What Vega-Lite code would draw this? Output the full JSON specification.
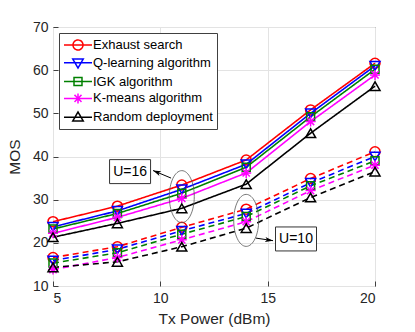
{
  "$schema": "https://vega.github.io/schema/vega-lite/v6.json",
  "width": 322,
  "height": 259,
  "autosize": "none",
  "padding": {"left": 53, "top": 27, "right": 40, "bottom": 46},
  "background": "white",
  "config": {
    "view": {"stroke": "#404040", "strokeWidth": 1},
    "font": "Liberation Sans",
    "axis": {
      "labelFont": "Liberation Sans",
      "labelFontSize": 14,
      "labelColor": "#262626",
      "titleFont": "Liberation Sans",
      "titleFontSize": 15.5,
      "titleFontWeight": "normal",
      "titleColor": "#262626",
      "domain": false,
      "tickSize": -5,
      "tickColor": "#404040",
      "labelPadding": 10,
      "gridColor": "#e3e3e3",
      "gridWidth": 1
    },
    "legend": {
      "labelFont": "Liberation Sans",
      "labelFontSize": 13,
      "labelColor": "#000000"
    }
  },
  "datasets": {
    "mos": [
      {"alg": "Exhaust search", "U": "16", "x": 5, "mos": 24.9},
      {"alg": "Exhaust search", "U": "16", "x": 8, "mos": 28.5},
      {"alg": "Exhaust search", "U": "16", "x": 11, "mos": 33.4},
      {"alg": "Exhaust search", "U": "16", "x": 14, "mos": 39.2},
      {"alg": "Exhaust search", "U": "16", "x": 17, "mos": 50.8},
      {"alg": "Exhaust search", "U": "16", "x": 20, "mos": 61.6},
      {"alg": "Q-learning algorithm", "U": "16", "x": 5, "mos": 23.7},
      {"alg": "Q-learning algorithm", "U": "16", "x": 8, "mos": 27.4},
      {"alg": "Q-learning algorithm", "U": "16", "x": 11, "mos": 32.4},
      {"alg": "Q-learning algorithm", "U": "16", "x": 14, "mos": 38.2},
      {"alg": "Q-learning algorithm", "U": "16", "x": 17, "mos": 50.0},
      {"alg": "Q-learning algorithm", "U": "16", "x": 20, "mos": 61.0},
      {"alg": "IGK algorithm", "U": "16", "x": 5, "mos": 23.2},
      {"alg": "IGK algorithm", "U": "16", "x": 8, "mos": 26.8},
      {"alg": "IGK algorithm", "U": "16", "x": 11, "mos": 31.5},
      {"alg": "IGK algorithm", "U": "16", "x": 14, "mos": 37.5},
      {"alg": "IGK algorithm", "U": "16", "x": 17, "mos": 49.2},
      {"alg": "IGK algorithm", "U": "16", "x": 20, "mos": 60.2},
      {"alg": "K-means algorithm", "U": "16", "x": 5, "mos": 22.2},
      {"alg": "K-means algorithm", "U": "16", "x": 8, "mos": 25.9},
      {"alg": "K-means algorithm", "U": "16", "x": 11, "mos": 30.3},
      {"alg": "K-means algorithm", "U": "16", "x": 14, "mos": 36.2},
      {"alg": "K-means algorithm", "U": "16", "x": 17, "mos": 48.1},
      {"alg": "K-means algorithm", "U": "16", "x": 20, "mos": 58.9},
      {"alg": "Random deployment", "U": "16", "x": 5, "mos": 21.3},
      {"alg": "Random deployment", "U": "16", "x": 8, "mos": 24.5},
      {"alg": "Random deployment", "U": "16", "x": 11, "mos": 28.0},
      {"alg": "Random deployment", "U": "16", "x": 14, "mos": 33.6},
      {"alg": "Random deployment", "U": "16", "x": 17, "mos": 45.4},
      {"alg": "Random deployment", "U": "16", "x": 20, "mos": 56.3},
      {"alg": "Exhaust search", "U": "10", "x": 5, "mos": 16.6},
      {"alg": "Exhaust search", "U": "10", "x": 8, "mos": 19.1},
      {"alg": "Exhaust search", "U": "10", "x": 11, "mos": 23.6},
      {"alg": "Exhaust search", "U": "10", "x": 14, "mos": 27.8},
      {"alg": "Exhaust search", "U": "10", "x": 17, "mos": 34.9},
      {"alg": "Exhaust search", "U": "10", "x": 20, "mos": 41.1},
      {"alg": "Q-learning algorithm", "U": "10", "x": 5, "mos": 15.9},
      {"alg": "Q-learning algorithm", "U": "10", "x": 8, "mos": 18.5},
      {"alg": "Q-learning algorithm", "U": "10", "x": 11, "mos": 22.8},
      {"alg": "Q-learning algorithm", "U": "10", "x": 14, "mos": 26.8},
      {"alg": "Q-learning algorithm", "U": "10", "x": 17, "mos": 33.9},
      {"alg": "Q-learning algorithm", "U": "10", "x": 20, "mos": 40.0},
      {"alg": "IGK algorithm", "U": "10", "x": 5, "mos": 15.3},
      {"alg": "IGK algorithm", "U": "10", "x": 8, "mos": 17.7},
      {"alg": "IGK algorithm", "U": "10", "x": 11, "mos": 22.0},
      {"alg": "IGK algorithm", "U": "10", "x": 14, "mos": 26.1},
      {"alg": "IGK algorithm", "U": "10", "x": 17, "mos": 33.2},
      {"alg": "IGK algorithm", "U": "10", "x": 20, "mos": 39.0},
      {"alg": "K-means algorithm", "U": "10", "x": 5, "mos": 13.8},
      {"alg": "K-means algorithm", "U": "10", "x": 8, "mos": 16.6},
      {"alg": "K-means algorithm", "U": "10", "x": 11, "mos": 20.7},
      {"alg": "K-means algorithm", "U": "10", "x": 14, "mos": 24.9},
      {"alg": "K-means algorithm", "U": "10", "x": 17, "mos": 32.1},
      {"alg": "K-means algorithm", "U": "10", "x": 20, "mos": 38.0},
      {"alg": "Random deployment", "U": "10", "x": 5, "mos": 14.3},
      {"alg": "Random deployment", "U": "10", "x": 8, "mos": 15.6},
      {"alg": "Random deployment", "U": "10", "x": 11, "mos": 19.1},
      {"alg": "Random deployment", "U": "10", "x": 14, "mos": 23.4},
      {"alg": "Random deployment", "U": "10", "x": 17, "mos": 30.5},
      {"alg": "Random deployment", "U": "10", "x": 20, "mos": 36.5}
    ],
    "ann": [
      {"label": "U=16", "bx": 8.59, "by": 36.5, "ex": 11, "ey": 30.7, "ax1": 10.5, "ay1": 35.0, "ax2": 9.66, "ay2": 36.75},
      {"label": "U=10", "bx": 16.32, "by": 20.9, "ex": 14, "ey": 25.2, "ax1": 14.45, "ay1": 21.1, "ax2": 15.25, "ay2": 20.5}
    ]
  },
  "layer": [
    {
      "data": {"name": "mos"},
      "mark": {"type": "line", "strokeWidth": 1.6},
      "encoding": {
        "x": {"field": "x", "type": "quantitative", "title": "Tx Power (dBm)",
              "scale": {"domain": [5, 20], "nice": false},
              "axis": {"values": [5, 10, 15, 20], "titlePadding": 6}},
        "y": {"field": "mos", "type": "quantitative", "title": "MOS",
              "scale": {"domain": [10, 70], "nice": false},
              "axis": {"values": [10, 20, 30, 40, 50, 60, 70], "titlePadding": 10}},
        "color": {"field": "alg", "type": "nominal",
          "scale": {"domain": ["Exhaust search", "Q-learning algorithm", "IGK algorithm", "K-means algorithm", "Random deployment"],
                    "range": ["#ff0000", "#0000ff", "#008000", "#ff00ff", "#000000"]},
          "legend": {
            "title": null,
            "orient": "top-left",
            "offset": 6,
            "fillColor": "white",
            "strokeColor": "#404040",
            "padding": 4,
            "rowPadding": 1.8,
            "symbolSize": 196,
            "symbolStrokeWidth": 1.5,
            "labelOffset": 14,
            "encoding": {
              "symbols": {
                "shape": {"value": {"expr": "datum.value === 'Exhaust search' ? 'M -1 0 H 3 M 1.714 0 A 0.714 0.714 0 1 1 0.286 0 A 0.714 0.714 0 1 1 1.714 0' : datum.value === 'Q-learning algorithm' ? 'M -1 0 H 3 M 1 0.75 L 0.25 -0.55 L 1.75 -0.55 Z' : datum.value === 'IGK algorithm' ? 'M -1 0 H 3 M 0.43 -0.57 H 1.57 V 0.57 H 0.43 Z' : datum.value === 'K-means algorithm' ? 'M -1 0 H 3 M 1 -0.714 V 0.714 M 0.5 -0.5 L 1.5 0.5 M 0.5 0.5 L 1.5 -0.5' : 'M -1 0 H 3 M 1 -0.75 L 0.25 0.55 L 1.75 0.55 Z'"}},
                "fill": {"value": "transparent"},
                "strokeWidth": {"value": 1.5},
                "strokeDash": {"value": [1, 0]},
                "opacity": {"value": 1}
              }
            }
          }},
        "strokeDash": {"field": "U", "type": "nominal",
          "scale": {"domain": ["16", "10"], "range": [[1, 0], [6, 4]]},
          "legend": null}
      }
    },
    {
      "data": {"name": "mos"},
      "transform": [{"filter": "datum.alg === 'Exhaust search'"}],
      "mark": {"type": "point", "shape": "circle", "filled": false, "stroke": "#ff0000", "strokeWidth": 1.5, "size": 100, "opacity": 1},
      "encoding": {
        "x": {"field": "x", "type": "quantitative"},
        "y": {"field": "mos", "type": "quantitative"}
      }
    },
    {
      "data": {"name": "mos"},
      "transform": [{"filter": "datum.alg === 'Q-learning algorithm'"}],
      "mark": {"type": "point", "shape": "triangle-down", "filled": false, "stroke": "#0000ff", "strokeWidth": 1.5, "size": 100, "opacity": 1},
      "encoding": {
        "x": {"field": "x", "type": "quantitative"},
        "y": {"field": "mos", "type": "quantitative"}
      }
    },
    {
      "data": {"name": "mos"},
      "transform": [{"filter": "datum.alg === 'IGK algorithm'"}],
      "mark": {"type": "point", "shape": "M -0.8 -0.8 H 0.8 V 0.8 H -0.8 Z", "filled": false, "stroke": "#008000", "strokeWidth": 1.5, "size": 100, "opacity": 1},
      "encoding": {
        "x": {"field": "x", "type": "quantitative"},
        "y": {"field": "mos", "type": "quantitative"}
      }
    },
    {
      "data": {"name": "mos"},
      "transform": [{"filter": "datum.alg === 'K-means algorithm'"}],
      "mark": {"type": "point", "shape": "M -1 0 H 1 M 0 -1 V 1 M -0.72 -0.72 L 0.72 0.72 M -0.72 0.72 L 0.72 -0.72", "filled": false, "stroke": "#ff00ff", "strokeWidth": 1.5, "size": 100, "opacity": 1},
      "encoding": {
        "x": {"field": "x", "type": "quantitative"},
        "y": {"field": "mos", "type": "quantitative"}
      }
    },
    {
      "data": {"name": "mos"},
      "transform": [{"filter": "datum.alg === 'Random deployment'"}],
      "mark": {"type": "point", "shape": "triangle-up", "filled": false, "stroke": "#000000", "strokeWidth": 1.5, "size": 100, "opacity": 1},
      "encoding": {
        "x": {"field": "x", "type": "quantitative"},
        "y": {"field": "mos", "type": "quantitative"}
      }
    },
    {
      "data": {"name": "ann"},
      "mark": {"type": "point", "shape": "M 0 -1 A 0.48 1 0 1 1 0 1 A 0.48 1 0 1 1 0 -1", "size": 2704, "filled": false, "stroke": "#555555", "strokeWidth": 0.8, "opacity": 1},
      "encoding": {
        "x": {"field": "ex", "type": "quantitative"},
        "y": {"field": "ey", "type": "quantitative"}
      }
    },
    {
      "data": {"name": "ann"},
      "mark": {"type": "rule", "stroke": "#000000", "strokeWidth": 1},
      "encoding": {
        "x": {"field": "ax1", "type": "quantitative"},
        "y": {"field": "ay1", "type": "quantitative"},
        "x2": {"field": "ax2"},
        "y2": {"field": "ay2"}
      }
    },
    {
      "data": {"name": "ann"},
      "transform": [{"filter": "datum.label === 'U=16'"}],
      "mark": {"type": "point", "shape": "M 0 0 L 0.5 1.6 L 0 1.2 L -0.5 1.6 Z", "size": 100, "filled": true, "fill": "#000000", "stroke": null, "opacity": 1, "angle": 292.6},
      "encoding": {
        "x": {"field": "ax2", "type": "quantitative"},
        "y": {"field": "ay2", "type": "quantitative"}
      }
    },
    {
      "data": {"name": "ann"},
      "transform": [{"filter": "datum.label === 'U=10'"}],
      "mark": {"type": "point", "shape": "M 0 0 L 0.5 1.6 L 0 1.2 L -0.5 1.6 Z", "size": 100, "filled": true, "fill": "#000000", "stroke": null, "opacity": 1, "angle": 98.4},
      "encoding": {
        "x": {"field": "ax2", "type": "quantitative"},
        "y": {"field": "ay2", "type": "quantitative"}
      }
    },
    {
      "data": {"name": "ann"},
      "mark": {"type": "point", "shape": "M -1 -0.585 H 1 V 0.585 H -1 Z", "size": 1681, "filled": true, "fill": "white", "stroke": "#333333", "strokeWidth": 1, "opacity": 1},
      "encoding": {
        "x": {"field": "bx", "type": "quantitative"},
        "y": {"field": "by", "type": "quantitative"}
      }
    },
    {
      "data": {"name": "ann"},
      "mark": {"type": "text", "font": "Liberation Sans", "fontSize": 14, "color": "#000000", "align": "center", "baseline": "middle"},
      "encoding": {
        "x": {"field": "bx", "type": "quantitative"},
        "y": {"field": "by", "type": "quantitative"},
        "text": {"field": "label"}
      }
    }
  ]
}
